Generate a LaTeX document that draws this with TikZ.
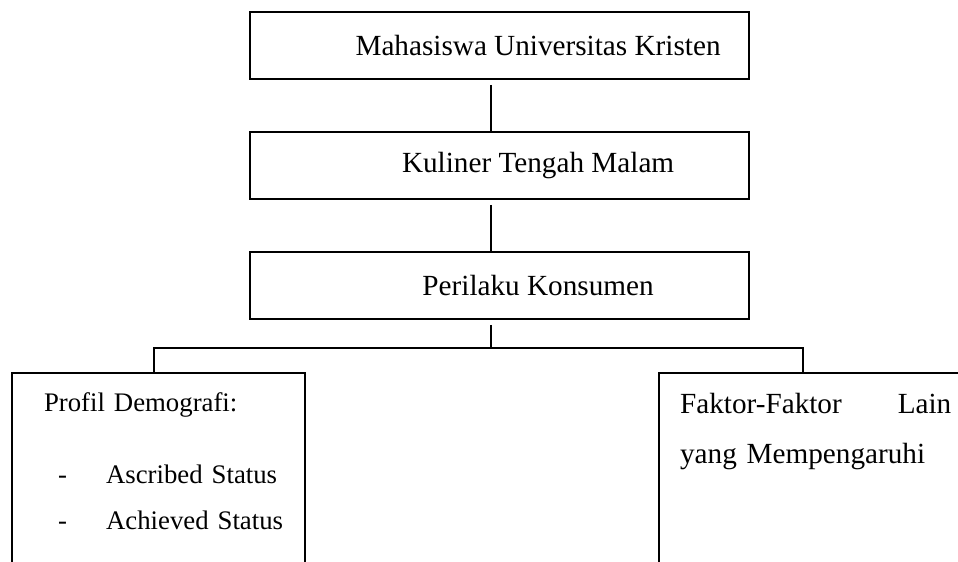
\documentclass[tikz,border=0pt]{standalone}
\usepackage{fontspec}
\setmainfont{Liberation Serif}
\usetikzlibrary{calc}

\begin{document}
\begin{tikzpicture}[
  line width=0.8pt,
  box/.style={draw, minimum width=7.21cm, minimum height=0.967cm, inner sep=0pt,
    font=\fontsize{12}{14}\selectfont},
  panel/.style={draw, anchor=north west, align=left, text depth=3cm, inner ysep=8.1pt},
  link/.style={shorten <=2pt}
]

% Page frame
\useasboundingbox (0,0) rectangle (13.83,-8.10);
\clip (0,0) rectangle (13.83,-8.10);

% ── Main chain ──
\node[box] (mhs) at (7.213,-0.657) {\hspace{1.11cm}Mahasiswa Universitas Kristen};
\node[box] (kuliner) at (7.213,-2.390) {\hspace{1.11cm}Kuliner Tengah Malam};
\node[box] (perilaku) at (7.213,-4.123) {\hspace{1.11cm}Perilaku Konsumen};

% ── Branch points ──
\coordinate (trunk) at (7.090,-5.025);
\coordinate (dropL) at (2.224,-5.025);
\coordinate (dropR) at (11.595,-5.025);

% ── Lower boxes (run off the page) ──
\node[panel, font=\fontsize{11}{18.9}\selectfont, text width=94pt, inner xsep=13.15pt]
  (demo) at (0.159,-5.372)
  {\mbox{Profil Demografi:}\\[10.7pt]
   \mbox{\makebox[25.5pt][l]{\hspace{5.75pt}-}Ascribed Status}\\
   \mbox{\makebox[25.5pt][l]{\hspace{5.75pt}-}Achieved Status}};
\node[panel, font=\fontsize{12}{20.6}\selectfont, text width=111.4pt, inner xsep=8.6pt]
  (faktor) at (9.502,-5.372)
  {Faktor-Faktor\hfill Lain\\yang Mempengaruhi};

% ── Connectors ──
\draw[link] (mhs.south -| trunk) -- (kuliner.north -| trunk);
\draw[link] (kuliner.south -| trunk) -- (perilaku.north -| trunk);
\draw[link] (perilaku.south -| trunk) -- (trunk);
\draw (dropL |- demo.north) -- (dropL) -- (dropR) -- (dropR |- faktor.north);

\end{tikzpicture}
\end{document}
